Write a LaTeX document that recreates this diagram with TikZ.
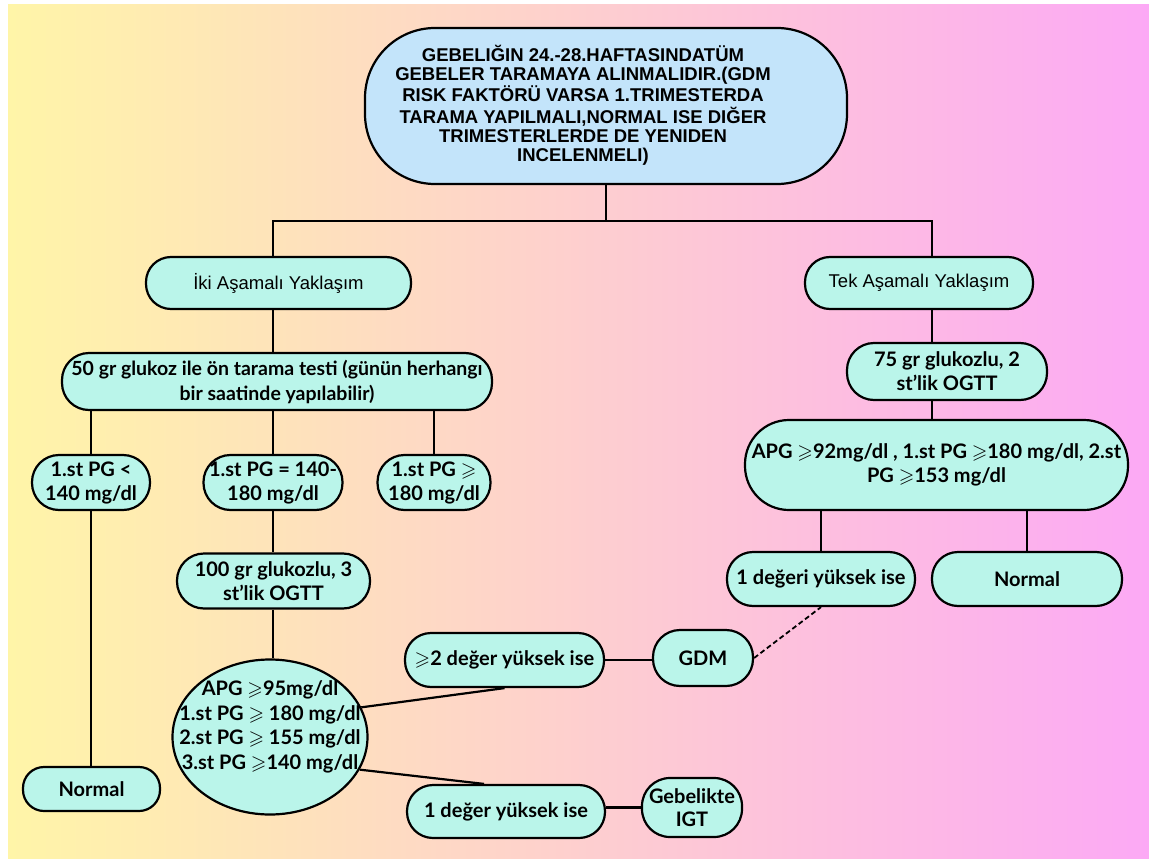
\documentclass[tikz,border=0pt]{standalone}
\usepackage{amssymb}
\usepackage{fontspec}
\setmainfont{Lato}
\newfontfamily\arialb{Liberation Sans}
\usetikzlibrary{shapes.geometric}
\definecolor{mint}{HTML}{BAF5EA}
\definecolor{sky}{HTML}{C3E4FA}
\definecolor{bgL}{HTML}{FFF5A8}
\definecolor{bgM}{HTML}{FFD2CB}
\definecolor{bgR}{HTML}{FCA9F5}
\newcommand\gs{$\geqslant$}
\tikzset{
  box/.style={draw=black, line width=2.2pt, fill=mint, inner sep=0pt, align=center,
    font=\bfseries\fontsize{20}{24}\selectfont},
  pill/.style={rounded corners=#1},
  conn/.style={draw=black, line width=2.2pt},
  txt/.style={inner sep=0pt, align=center, font=\bfseries\fontsize{20}{24.5}\selectfont}
}
\begin{document}
\begin{tikzpicture}[x=1pt,y=-1pt]
\useasboundingbox (0,0) rectangle (1149,859);
\fill[left color=bgL, middle color=bgM, right color=bgR] (8,5) rectangle (1149,859);

% top
\node[box, fill=sky, pill=70pt, minimum width=482pt, minimum height=156pt,
  font=\arialb\bfseries\fontsize{18.5}{18.4}\selectfont] (top) at (606,106)
  {\begin{tabular}{@{}c@{}}GEBELIĞIN 24.-28.HAFTASINDATÜM\\GEBELER TARAMAYA ALINMALIDIR.(GDM\\RISK FAKTÖRÜ VARSA 1.TRIMESTERDA\\TARAMA YAPILMALI,NORMAL ISE DIĞER\\TRIMESTERLERDE DE YENIDEN\\INCELENMELI)\end{tabular}\hspace*{46pt}};

% level 2
\node[box, pill=25pt, minimum width=265pt, minimum height=52pt,
  font=\arialb\fontsize{18.5}{22}\selectfont] (iki) at (278.5,283) {İki Aşamalı Yaklaşım};
\node[box, pill=25pt, minimum width=228pt, minimum height=52pt,
  font=\arialb\fontsize{18.5}{22}\selectfont] (tek) at (919,283) {Tek Aşamalı Yaklaşım};

\coordinate (jl) at (273,221);
\coordinate (jr) at (932,221);
\draw[conn] (top.south) -- (top.south |- jl);
\draw[conn] (iki.north -| jl) -- (jl) -- (jr) -- (tek.north -| jr);

% left branch
\node[box, pill=27pt, minimum width=430pt, minimum height=57pt,
  font=\bfseries\fontsize{19.5}{25}\selectfont] (ft) at (277,381.5)
  {50 gr glukoz ile ön tarama testi (günün herhangı\\bir saatinde yapılabilir)};
\draw[conn] (iki.south -| jl) -- (ft.north -| jl);

\node[box, pill=27pt, minimum width=118pt, minimum height=55pt] (a1) at (91,482.5)
  {1.st PG <\\140 mg/dl};
\node[box, pill=27pt, minimum width=139pt, minimum height=55pt] (a2) at (273,482.5)
  {1.st PG = 140-\\180 mg/dl};
\node[box, pill=27pt, minimum width=113pt, minimum height=55pt] (a3) at (434,482.5)
  {1.st PG \gs\\180 mg/dl};
\draw[conn] (ft.south -| a1.north) -- (a1.north);
\draw[conn] (ft.south -| a2.north) -- (a2.north);
\draw[conn] (ft.south -| a3.north) -- (a3.north);

\node[box, pill=21pt, minimum width=137pt, minimum height=44pt] (n1) at (91.5,789) {Normal};
\draw[conn] (a1.south) -- (n1.north -| a1.south);

\node[box, pill=27pt, minimum width=193pt, minimum height=55pt] (ht) at (273.5,581)
  {100 gr glukozlu, 3\\st’lik OGTT};
\draw[conn] (a2.south) -- (ht.north -| a2.south);

\node[draw=black, line width=2.2pt, fill=mint, ellipse, minimum width=195pt,
  minimum height=155pt, inner sep=0pt] (circ) at (270,737) {};
\node[txt] (circt) at (270,727)
  {APG \gs95mg/dl\\1.st PG \gs{} 180 mg/dl\\2.st PG \gs{} 155 mg/dl\\3.st PG \gs140 mg/dl};
\draw[conn] (ht.south -| a2.south) -- (circ.north -| a2.south);

\node[box, pill=26pt, minimum width=199pt, minimum height=54pt] (ge2) at (504.5,660)
  {\gs2 değer yüksek ise};
\node[box, pill=26pt, minimum width=198pt, minimum height=53pt] (d1) at (506,811.5)
  {1 değer yüksek ise};
\node[box, pill=27pt, minimum width=100pt, minimum height=56pt] (gdm) at (703,658) {GDM};
\node[box, pill=28pt, minimum width=100pt, minimum height=59pt,
  font=\bfseries\fontsize{20}{23}\selectfont] (igt) at (692,807.5) {Gebelikte\\IGT};

\draw[conn] (circ.18) -- (ge2.south);
\draw[conn] (circ.-20) -- ([xshift=-22pt]d1.north);
\draw[conn] (ge2.east) -- (gdm.west |- ge2.east);
\draw[conn] (d1.east |- igt.west) -- (igt.west);

% right branch
\node[box, pill=27pt, minimum width=200pt, minimum height=57pt] (og) at (947,371.5)
  {75 gr glukozlu, 2\\st’lik OGTT};
\draw[conn] (tek.south -| jr) -- (og.north -| jr);

\node[box, pill=44pt, minimum width=383pt, minimum height=90pt] (apg) at (936.5,465)
  {APG \gs92mg/dl , 1.st PG \gs180 mg/dl, 2.st\\PG \gs153 mg/dl};
\draw[conn] (og.south -| jr) -- (apg.north -| jr);

\node[box, pill=26pt, minimum width=188pt, minimum height=54pt] (d1r) at (821,579)
  {1 değeri yüksek ise};
\node[box, pill=26pt, minimum width=190pt, minimum height=54pt] (n2) at (1027,579) {Normal};
\draw[conn] (apg.south -| d1r.north) -- (d1r.north);
\draw[conn] (apg.south -| n2.north) -- (n2.north);

\draw[conn, line width=1.8pt, dashed, dash pattern=on 5pt off 3pt] (gdm.east) -- (d1r.south);
\end{tikzpicture}
\end{document}
